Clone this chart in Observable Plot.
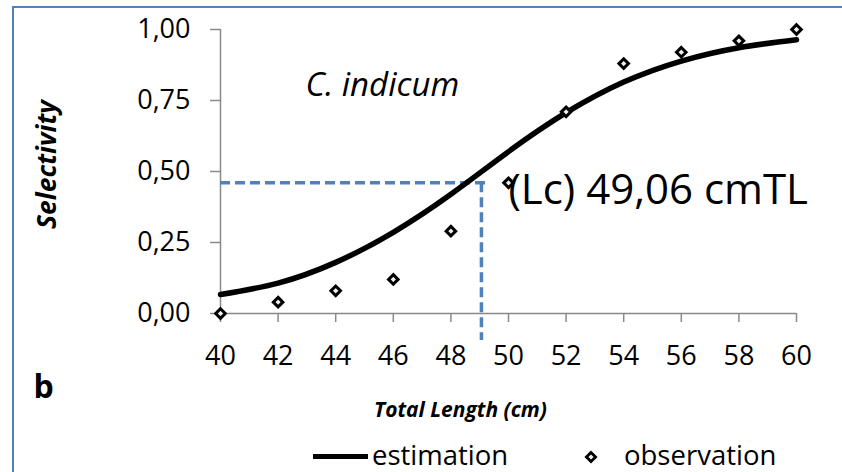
<!DOCTYPE html>
<html>
<head>
<meta charset="utf-8">
<script src="https://cdn.jsdelivr.net/npm/d3@7"></script>
<script src="https://cdn.jsdelivr.net/npm/@observablehq/plot@0.6"></script>
<style>
  html, body { margin: 0; padding: 0; background: #fff; }
  #wrap { position: relative; width: 842px; height: 472px; overflow: hidden; background: #fff; font-family: 'Open Sans', sans-serif; }
  #frame { position: absolute; left: 12px; top: 6px; width: 1000px; height: 1000px; border-left: 2px solid #4F81BD; border-top: 2px solid #4F81BD; }
  #chart { position: absolute; left: 0; top: 0; }
  #legend { position: absolute; left: 0; top: 430px; width: 842px; height: 42px; }
  .lg { position: absolute; font-size: 27.5px; line-height: 1; color: #000; }
</style>
</head>
<body>
<div id="wrap">
  <div id="frame"></div>
  <div id="chart"></div>
  <div id="legend"></div>
</div>
<script>
// ---- data ----
const xTicks = [40, 42, 44, 46, 48, 50, 52, 54, 56, 58, 60];
const yTicks = [0, 0.25, 0.5, 0.75, 1];
const lengths = [40, 42, 44, 46, 48, 50, 52, 54, 56, 58, 60];
const observed = [0, 0.04, 0.08, 0.12, 0.29, 0.46, 0.71, 0.88, 0.92, 0.96, 1.00];
const estimated = [0.067, 0.107, 0.18, 0.286, 0.42, 0.57, 0.707, 0.815, 0.889, 0.936, 0.964];
const lc = 49.06;
const lcSel = 0.46;
const seriesNames = ["estimation", "observation"];
const speciesName = "C. indicum";
const panelLetter = "b";
const xTitle = "Total Length (cm)";
const yTitle = "Selectivity";

const fmt = d => d.toFixed(2).replace(".", ",");
const obsData = lengths.map((x, i) => ({x, y: observed[i]}));
const estData = lengths.map((x, i) => ({x, y: estimated[i]}));
const lcData = [{x: lc, y: lcSel, label: `(Lc) ${fmt(lc)} cmTL`}];

const axisGray = "#898989";
const dashBlue = "#4F81BD";

const chart = Plot.plot({
  width: 842,
  height: 430,
  marginLeft: 220,
  marginRight: 46,
  marginTop: 29,
  marginBottom: 117,
  style: {fontFamily: "'Open Sans', sans-serif", fontSize: "27px", color: "black", background: "transparent", overflow: "visible"},
  x: {domain: [40, 60]},
  y: {domain: [0, 1]},
  marks: [
    Plot.ruleX([40], {y1: 0, y2: 1, stroke: axisGray, strokeWidth: 1.5}),
    Plot.ruleY([0], {x1: 40, x2: 60, stroke: axisGray, strokeWidth: 1.5}),
    Plot.axisY({ticks: yTicks, tickSize: 10, tickPadding: 20, tickFormat: fmt, stroke: axisGray, fill: "black", label: null, fontSize: 27, strokeWidth: 1.5}),
    Plot.axisX({ticks: xTicks, tickSize: 9, tickPadding: 23, tickFormat: d => String(d), stroke: axisGray, fill: "black", label: null, fontSize: 27, strokeWidth: 1.5}),
    Plot.ruleY(lcData, {y: "y", x1: 40, x2: 49.3, stroke: dashBlue, strokeWidth: 3.5, strokeDasharray: "10,5"}),
    Plot.ruleX(lcData, {x: "x", y1: "y", y2: -0.095, stroke: dashBlue, strokeWidth: 3.5, strokeDasharray: "10,5"}),
    Plot.line(estData, {x: "x", y: "y", stroke: "black", strokeWidth: 5.5, curve: "natural"}),
    Plot.dot(obsData, {x: "x", y: "y", symbol: "diamond2", r: 4.3, stroke: "black", strokeWidth: 3, fill: "#f0f0f0"}),
    Plot.text(lcData, {x: "x", y: "y", text: "label", textAnchor: "start", lineAnchor: "middle", dx: 27, dy: 8, fontSize: 42}),
    Plot.text([speciesName], {text: d => d, frameAnchor: "top-left", textAnchor: "start", lineAnchor: "middle", dx: 85, dy: 56, fontSize: 33, fontStyle: "italic"}),
    Plot.text([yTitle], {text: d => d, frameAnchor: "left", rotate: -90, textAnchor: "middle", lineAnchor: "middle", dx: -173, dy: -7, fontSize: 26.5, fontWeight: "bold", fontStyle: "italic"}),
    Plot.text([xTitle], {text: d => d, frameAnchor: "bottom", textAnchor: "middle", lineAnchor: "middle", dx: -48, dy: 97, fontSize: 21, fontWeight: "bold", fontStyle: "italic"}),
    Plot.text([panelLetter], {text: d => d, frameAnchor: "bottom-left", textAnchor: "start", lineAnchor: "middle", dx: -187, dy: 74, fontSize: 32, fontWeight: "bold"})
  ]
});
document.getElementById("chart").appendChild(chart);

// legend (below the SVG)
const legend = document.getElementById("legend");
legend.innerHTML = `
  <div style="position:absolute;left:313px;top:23.5px;width:55px;height:5px;background:#000"></div>
  <div class="lg" style="left:372px;top:11px">${seriesNames[0]}</div>
  <svg style="position:absolute;left:584px;top:19.5px" width="14" height="14" viewBox="-7 -7 14 14"><path d="M0,-4.6L4.6,0L0,4.6L-4.6,0Z" fill="#f0f0f0" stroke="#000" stroke-width="2.8"/></svg>
  <div class="lg" style="left:624px;top:11px">${seriesNames[1]}</div>
`;
</script>
</body>
</html>
